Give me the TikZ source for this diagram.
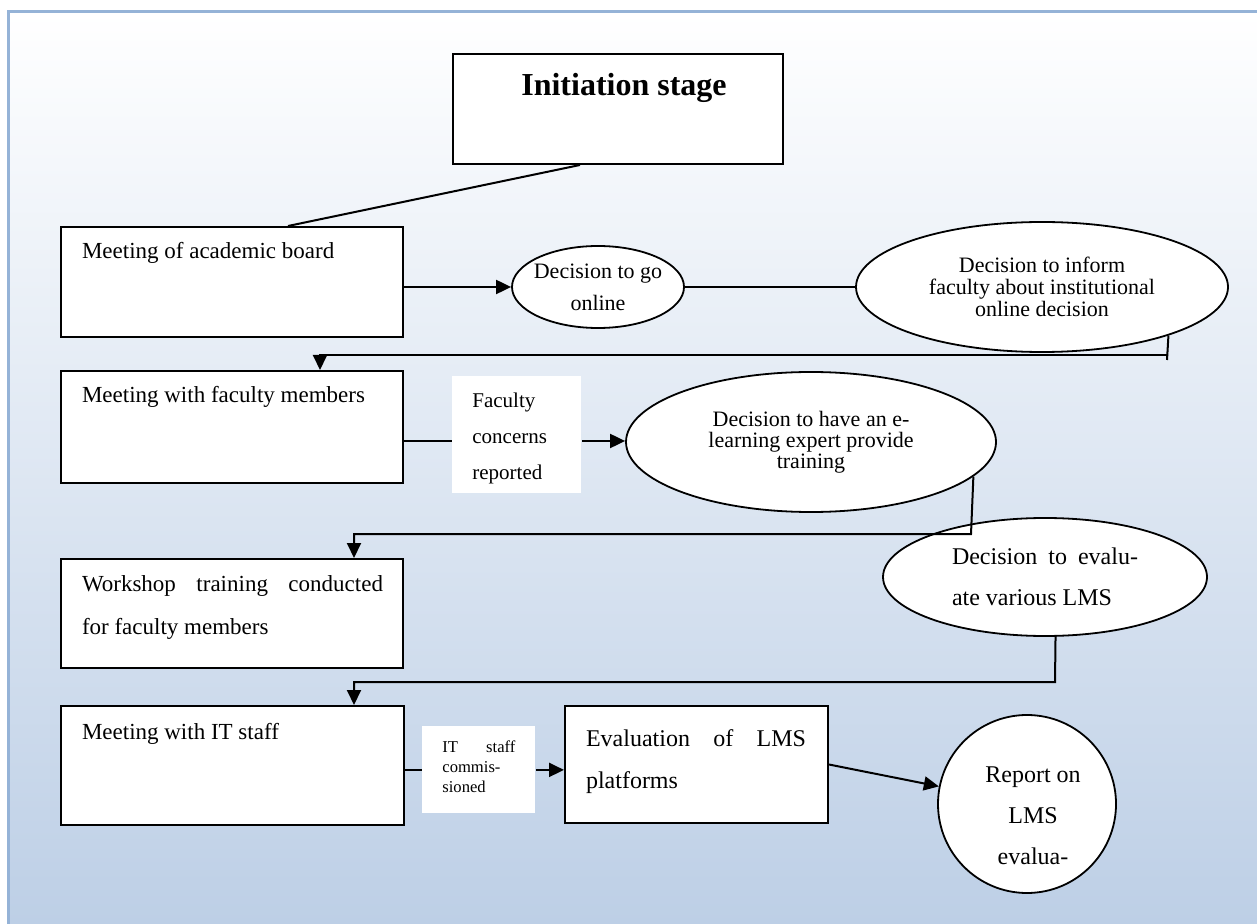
\documentclass[tikz,border=0pt]{standalone}
\usepackage{fontspec}
\setmainfont{Liberation Serif}
\usetikzlibrary{shapes.geometric,arrows.meta}
\definecolor{bgblue}{RGB}{189,207,230}
\definecolor{bordercol}{RGB}{149,179,215}
% #1 W, #2 H, #3 left pad, #4 first baseline from top, #5 text width, #6 setup, #7 text
\newcommand\bx[7]{\parbox[c][#2][t]{#1}{\vspace*{\dimexpr#4-12pt\relax}\hspace*{#3}\parbox[t]{#5}{#6\rule{0pt}{12pt}#7}}}
\begin{document}
\begin{tikzpicture}[x=0.5pt,y=-0.5pt,
  box/.style={draw=black,line width=1pt,fill=white,inner sep=0pt,anchor=north west},
  lbl/.style={fill=white,inner sep=0pt,anchor=north west},
  ell/.style={ellipse,draw=black,line width=0.9pt,fill=white,inner sep=-5pt,align=center},
  con/.style={line width=1pt},
  arr/.style={line width=1pt,-{Triangle[length=7.5pt,width=7pt]}}
]
\useasboundingbox (0,0) rectangle (1257,924);
\clip (0,0) rectangle (1257,924);
\fill[white] (0,0) rectangle (1257,924);
\shade[top color=white,bottom color=bgblue] (8,12) rectangle (1270,924);
\draw[bordercol,line width=1.5pt] (8,940) -- (8,12) -- (1270,12);

% boxes
\node[box] (B0) at (452,53) {\bx{165pt}{55pt}{0pt}{21pt}{165pt}{\fontsize{16pt}{18pt}\selectfont\bfseries\centering}{\hspace*{6pt}Initiation stage}};
\node[box] (B1) at (60,226) {\bx{171pt}{55pt}{10.5pt}{16pt}{155pt}{\fontsize{11.5pt}{14pt}\selectfont}{Meeting of academic board}};
\node[box] (B2) at (60,370) {\bx{171pt}{56pt}{10.5pt}{16pt}{155pt}{\fontsize{11.5pt}{14pt}\selectfont}{Meeting with faculty members}};
\node[box] (B3) at (60,558) {\bx{171pt}{54.5pt}{10.5pt}{16pt}{150.5pt}{\fontsize{11.5pt}{21.5pt}\selectfont}{Workshop\hfill training\hfill conducted\\for faculty members}};
\node[box] (B4) at (60,705) {\bx{171.5pt}{59.5pt}{10.5pt}{16.5pt}{155pt}{\fontsize{11.5pt}{14pt}\selectfont}{Meeting with IT staff}};
\node[box] (B5) at (564,705) {\bx{131.5pt}{58.5pt}{10.5pt}{20pt}{110pt}{\fontsize{12pt}{21pt}\selectfont}{Evaluation\hfill of\hfill LMS\\platforms}};

% labels
\node[lbl] (L1) at (452,376) {\bx{64.5pt}{58.5pt}{10pt}{15.5pt}{50pt}{\fontsize{10.5pt}{18pt}\selectfont\raggedright}{Faculty\\concerns\\reported}};
\node[lbl] (L2) at (422,726) {\bx{56.5pt}{43.5pt}{10pt}{13pt}{36.5pt}{\fontsize{8.3pt}{10pt}\selectfont}{IT\hfill staff\\commis-\\sioned}};

% ellipses
\node[ell,minimum width=86pt,minimum height=41pt,font=\fontsize{11pt}{16pt}\selectfont] (E1) at (598,287) {Decision to go\\online};
\node[ell,minimum width=186pt,minimum height=65pt,font=\fontsize{11pt}{11pt}\selectfont] (E2) at (1042,287) {Decision to inform\\faculty about institutional\\online decision};
\node[ell,minimum width=185pt,minimum height=70pt,font=\fontsize{11pt}{10.5pt}\selectfont] (E3) at (811,442) {Decision to have an e-\\learning expert provide\\training};
\node[ell,minimum width=162pt,minimum height=59pt] (E4) at (1045,577) {\parbox{93pt}{\fontsize{12pt}{20.5pt}\selectfont Decision\hfill to\hfill evalu-\\ate various LMS}};
\node[circle,draw=black,line width=0.9pt,fill=white,inner sep=-5pt,minimum size=89pt] (C) at (1027,804) {\parbox{60pt}{\fontsize{12pt}{20.5pt}\selectfont\centering\vspace*{12pt}\hspace*{6pt}Report on\\\hspace*{6pt}LMS\\\hspace*{6pt}evalua-}};

% connectors
\draw[con] ([xshift=64pt]B0.south west) -- ([xshift=114pt]B1.north west);
\draw[arr] (B1.east |- E1.west) -- (E1.west);
\draw[con] (E1.east) -- (E2.west);
\coordinate (k1) at (1167,355);
\draw[con] (E2.-21) -- ([yshift=-2.5pt]k1);
\draw[arr] (k1) -| ([xshift=130pt]B2.north west);
\draw[con] ([yshift=-7pt]B2.east) coordinate (p1) -- (p1 -| L1.west);
\draw[arr] (L1.east |- p1) -- (E3.west |- p1);
\coordinate (k2) at (971,534);
\draw[arr] (E3.-12.4) -- (k2) -| ([xshift=147pt]B3.north west);
\coordinate (k3) at (1055,682);
\draw[arr] (E4.-80.4) -- (k3) -| ([xshift=147pt]B4.north west);
\draw[con] (B4.east |- L2.west) -- (L2.west);
\draw[arr] (L2.east) -- (B5.west |- L2.east);
\draw[arr] (B5.east) -- (C);
\end{tikzpicture}
\end{document}
